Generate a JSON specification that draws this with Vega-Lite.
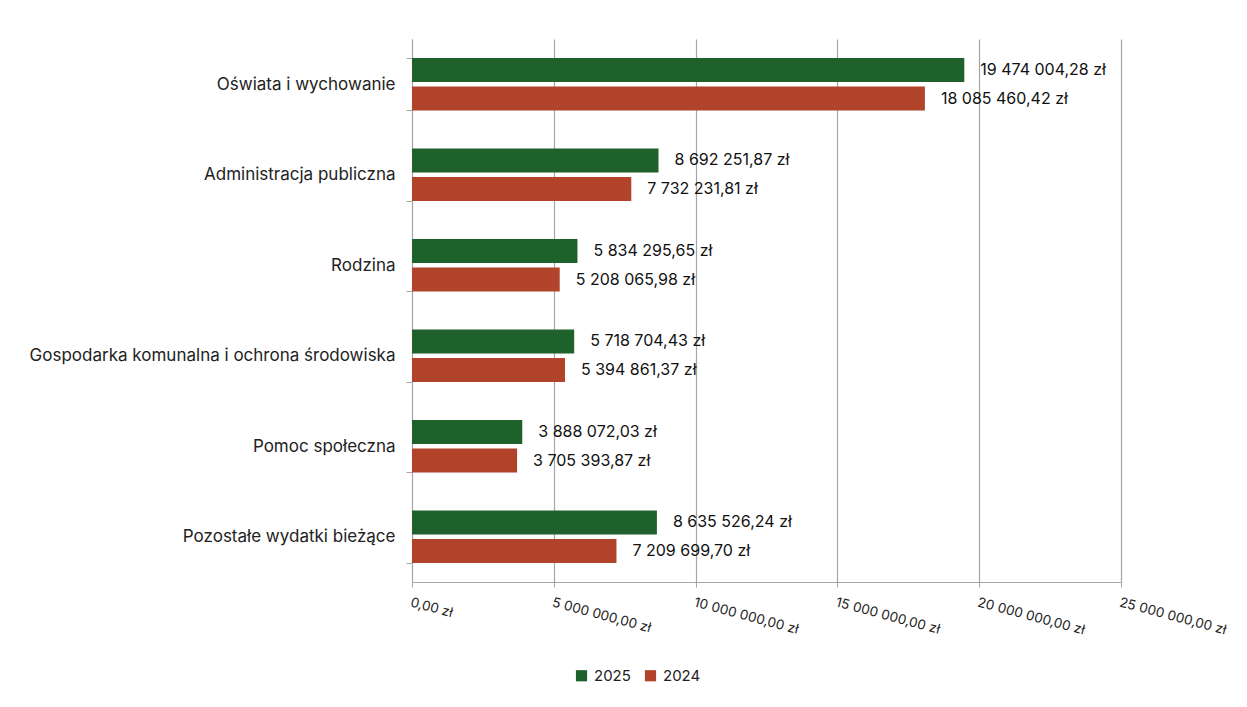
{
  "$schema": "https://vega.github.io/schema/vega-lite/v6.json",
  "autosize": {"type": "none"},
  "width": 709,
  "height": 543,
  "padding": {"left": 412, "top": 39, "right": 126, "bottom": 125},
  "background": "white",
  "config": {
    "font": "Inter",
    "view": {"stroke": null},
    "locale": {
      "number": {"decimal": ",", "thousands": " ", "grouping": [3], "currency": ["", " zł"]}
    }
  },
  "data": {
    "values": [
      {"kategoria": "Oświata i wychowanie", "rok": "2025", "kwota": 19474004.28},
      {"kategoria": "Oświata i wychowanie", "rok": "2024", "kwota": 18085460.42},
      {"kategoria": "Administracja publiczna", "rok": "2025", "kwota": 8692251.87},
      {"kategoria": "Administracja publiczna", "rok": "2024", "kwota": 7732231.81},
      {"kategoria": "Rodzina", "rok": "2025", "kwota": 5834295.65},
      {"kategoria": "Rodzina", "rok": "2024", "kwota": 5208065.98},
      {"kategoria": "Gospodarka komunalna i ochrona środowiska", "rok": "2025", "kwota": 5718704.43},
      {"kategoria": "Gospodarka komunalna i ochrona środowiska", "rok": "2024", "kwota": 5394861.37},
      {"kategoria": "Pomoc społeczna", "rok": "2025", "kwota": 3888072.03},
      {"kategoria": "Pomoc społeczna", "rok": "2024", "kwota": 3705393.87},
      {"kategoria": "Pozostałe wydatki bieżące", "rok": "2025", "kwota": 8635526.24},
      {"kategoria": "Pozostałe wydatki bieżące", "rok": "2024", "kwota": 7209699.70}
    ]
  },
  "encoding": {
    "y": {
      "field": "kategoria",
      "type": "nominal",
      "sort": null,
      "scale": {"paddingInner": 0.42, "paddingOuter": 0.21},
      "axis": {
        "title": null,
        "tickBand": "extent",
        "domainColor": "#a6a6a6",
        "tickColor": "#a6a6a6",
        "tickSize": 6,
        "labelFontSize": 17,
        "labelColor": "#222222",
        "labelPadding": 11,
        "labelLimit": 420
      }
    },
    "yOffset": {
      "field": "rok",
      "type": "nominal",
      "sort": ["2025", "2024"],
      "scale": {"paddingInner": 0.16}
    },
    "x": {
      "field": "kwota",
      "type": "quantitative",
      "scale": {"domain": [0, 25000000], "nice": false},
      "axis": {
        "title": null,
        "values": [0, 5000000, 10000000, 15000000, 20000000, 25000000],
        "format": "$,.2f",
        "labelAngle": 15,
        "labelAlign": "left",
        "labelBaseline": "top",
        "labelFontSize": 13.5,
        "labelColor": "#222222",
        "labelPadding": 8,
        "labelFlush": false,
        "labelOverlap": false,
        "domainColor": "#a6a6a6",
        "tickColor": "#a6a6a6",
        "tickSize": 5,
        "gridColor": "#a6a6a6",
        "gridWidth": 1.2
      }
    }
  },
  "layer": [
    {
      "mark": {"type": "bar"},
      "encoding": {
        "color": {
          "field": "rok",
          "type": "nominal",
          "scale": {"domain": ["2025", "2024"], "range": ["#1E612A", "#B0432A"]},
          "legend": {
            "title": null,
            "orient": "none",
            "legendX": 162,
            "legendY": 629,
            "direction": "horizontal",
            "symbolType": "square",
            "symbolSize": 125,
            "symbolStrokeWidth": 0,
            "labelFontSize": 15,
            "labelColor": "#222222",
            "labelOffset": 5,
            "columnPadding": 12
          }
        }
      }
    },
    {
      "mark": {"type": "text", "align": "left", "baseline": "middle", "dx": 16, "fontSize": 16, "color": "#111111"},
      "encoding": {
        "text": {"field": "kwota", "type": "quantitative", "format": "$,.2f"}
      }
    }
  ]
}
